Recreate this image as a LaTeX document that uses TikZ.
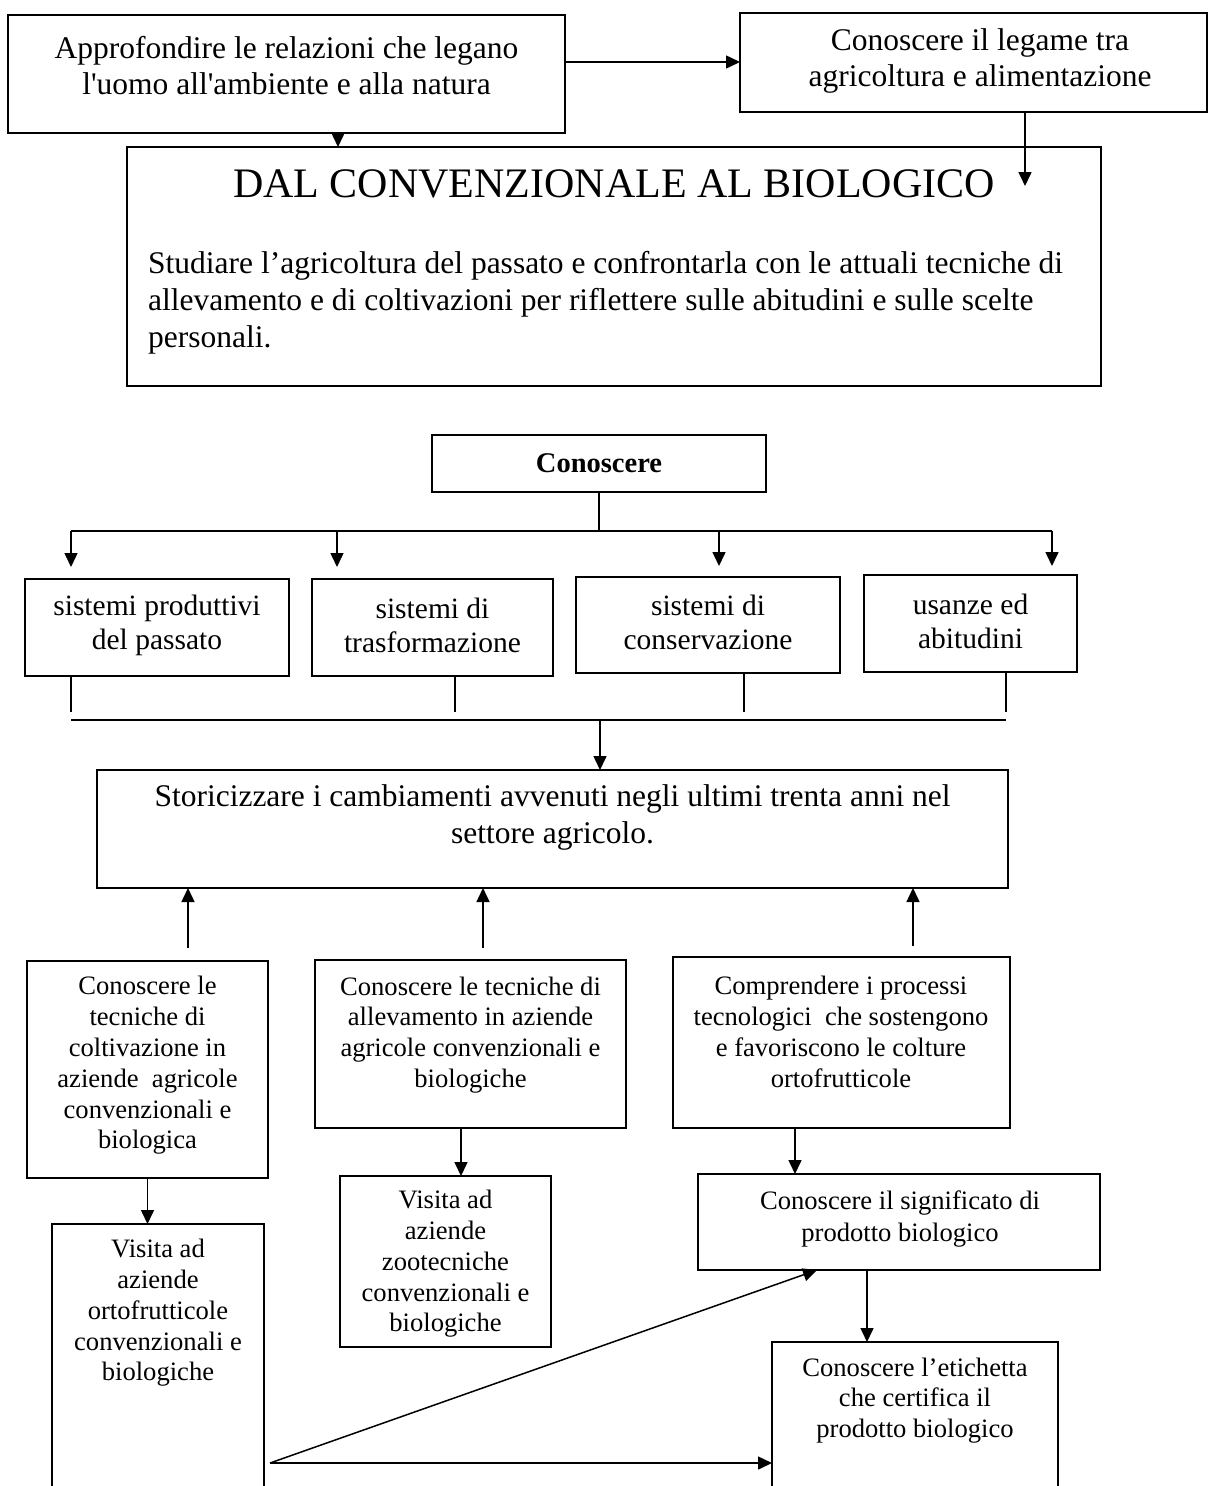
\documentclass[tikz,border=0pt]{standalone}
\usepackage{fontspec}
\setmainfont{Liberation Serif}
\usetikzlibrary{arrows.meta}

\begin{document}
\begin{tikzpicture}[x=1pt,y=-1pt,
  box/.style={draw, line width=1.8pt, rectangle, inner sep=0pt, outer sep=0pt},
  txt/.style={align=center, inner sep=0pt},
  big/.style={font=\fontsize{31.5}{36}\selectfont},
  mid/.style={font=\fontsize{29.5}{34}\selectfont},
  small/.style={font=\fontsize{26.6}{30.8}\selectfont},
  ln/.style={line width=1.5pt},
  arr/.style={line width=1.5pt, -{Triangle[length=14pt,width=13pt]}}]

\fill[white] (0,0) rectangle (1209,1486);
\useasboundingbox (0,0) rectangle (1209,1486);

% ---------- top part ----------
\node[box, minimum width=557, minimum height=118] (rel) at (286.5,74) {};
\node[txt, big] (relt) at (286.5,66)
  {Approfondire le relazioni che legano\\l\textquotesingle uomo all\textquotesingle ambiente e alla natura};

\node[box, minimum width=467, minimum height=99] (leg) at (973.5,62.5) {};
\node[txt, big] (legt) at (980,61)
  {Conoscere il legame tra\\agricoltura e alimentazione};

\node[box, minimum width=974, minimum height=239] (main) at (614,266.5) {};
\node[txt, font=\fontsize{42}{48}\selectfont] (title) at (614,184)
  {DAL CONVENZIONALE AL BIOLOGICO};
\node[inner sep=0pt, align=left, anchor=north west, font=\fontsize{31.5}{37}\selectfont] (para) at (148,251)
  {Studiare l’agricoltura del passato e confrontarla con le attuali tecniche di\\
   allevamento e di coltivazioni per riflettere sulle abitudini e sulle scelte\\
   personali.};

\draw[arr] ([yshift=12pt]rel.east) -- ([yshift=12pt]rel.east -| leg.west);
\draw[arr] ([xshift=51.5pt]rel.south) -- ([xshift=51.5pt]rel.south |- main.north);
\coordinate (legend) at (1025,186);
\draw[arr] (leg.south -| legend) -- (legend);

% ---------- Conoscere ----------
\node[box, minimum width=334, minimum height=57] (con) at (599,463.5) {};
\node[txt, font=\fontsize{28.5}{34}\selectfont\bfseries] (cont) at (599,463) {Conoscere};

\node[box, minimum width=264, minimum height=97] (r1) at (157,627.5) {};
\node[box, minimum width=241, minimum height=97] (r2) at (432.5,627.5) {};
\node[box, minimum width=264, minimum height=96] (r3) at (708,625) {};
\node[box, minimum width=213, minimum height=97] (r4) at (970.5,623.5) {};
\node[txt, mid] (r1t) at (157,625) {sistemi produttivi\\del passato};
\node[txt, mid] (r2t) at (432.5,625) {sistemi di\\trasformazione};
\node[txt, mid] (r3t) at (708,622.5) {sistemi di\\conservazione};
\node[txt, mid] (r4t) at (970.5,621) {usanze ed\\abitudini};

\coordinate (hub) at (599,531);
\coordinate (h1) at (71,531);
\coordinate (h2) at (337,531);
\coordinate (h3) at (719,531);
\coordinate (h4) at (1052,531);
\draw[ln] (con.south) -- (hub);
\draw[ln] (h1) -- (h4);
\draw[arr, shorten >=12pt] (h1) -- (h1 |- r1.north);
\draw[arr, shorten >=12pt] (h2) -- (h2 |- r2.north);
\draw[arr, shorten >=11pt] (h3) -- (h3 |- r3.north);
\draw[arr, shorten >=9pt] (h4) -- (h4 |- r4.north);

% collector below the four boxes
\coordinate (c1) at (71,712);
\coordinate (c2) at (455,712);
\coordinate (c3) at (744,712);
\coordinate (c4) at (1006,712);
\coordinate (k1) at (71,720);
\coordinate (k4) at (1006,720);
\coordinate (kc) at (600,720);
\draw[ln] (r1.south -| c1) -- (c1);
\draw[ln] (r2.south -| c2) -- (c2);
\draw[ln] (r3.south -| c3) -- (c3);
\draw[ln] (r4.south -| c4) -- (c4);
\draw[ln] (k1) -- (k4);

% ---------- Storicizzare ----------
\node[box, minimum width=911, minimum height=118] (sto) at (552.5,829) {};
\node[txt, font=\fontsize{31.5}{37}\selectfont] (stot) at (552.5,817.5)
  {Storicizzare i cambiamenti avvenuti negli ultimi trenta anni nel\\settore agricolo.};
\draw[arr] (kc) -- (kc |- sto.north);

% ---------- lower boxes ----------
\node[box, minimum width=241, minimum height=217] (colt) at (147.5,1069.5) {};
\node[box, minimum width=311, minimum height=168] (alle) at (470.5,1044) {};
\node[box, minimum width=337, minimum height=171] (proc) at (841.5,1042.5) {};
\node[txt, small] (coltt) at (147.5,1065.5)
  {Conoscere le\\tecniche di\\coltivazione in\\aziende\ \ agricole\\convenzionali e\\biologica};
\node[txt, small] (allet) at (470.5,1035)
  {Conoscere le tecniche di\\allevamento in aziende\\agricole convenzionali e\\biologiche};
\node[txt, small] (proct) at (841,1032)
  {Comprendere i processi\\tecnologici\ \ che sostengono\\e favoriscono le colture\\ortofrutticole};

\coordinate (u1) at (188,948);
\coordinate (u2) at (483,948);
\coordinate (u3) at (913,946);
\draw[arr] (u1) -- (u1 |- sto.south);
\draw[arr] (u2) -- (u2 |- sto.south);
\draw[arr] (u3) -- (u3 |- sto.south);

\node[box, minimum width=212, minimum height=272] (orto) at (158,1360) {};
\node[box, minimum width=211, minimum height=171] (zoo) at (445.5,1261.5) {};
\node[box, minimum width=402, minimum height=96] (sign) at (899,1222) {};
\node[box, minimum width=286, minimum height=154] (etic) at (915,1419) {};
\node[txt, small] (ortot) at (158,1313)
  {Visita ad\\aziende\\ortofrutticole\\convenzionali e\\biologiche};
\node[txt, small] (zoot) at (445.5,1264)
  {Visita ad\\aziende\\zootecniche\\convenzionali e\\biologiche};
\node[txt, font=\fontsize{26.6}{32}\selectfont] (signt) at (900,1219)
  {Conoscere il significato di\\prodotto biologico};
\node[txt, small] (etict) at (915,1400.5)
  {Conoscere l’etichetta\\che certifica il\\prodotto biologico};

\draw[arr] (colt.south) -- (colt.south |- orto.north);
\draw[arr] ([xshift=-9.5pt]alle.south) -- ([xshift=-9.5pt]alle.south |- zoo.north);
\draw[arr] ([xshift=-46.5pt]proc.south) -- ([xshift=-46.5pt]proc.south |- sign.north);
\draw[arr] ([xshift=-32pt]sign.south) -- ([xshift=-32pt]sign.south |- etic.north);

\coordinate (vstart) at (270,1463);
\draw[arr] (vstart) -- ([xshift=-82pt]sign.south);
\draw[arr] (vstart) -- (vstart -| etic.west);

\end{tikzpicture}
\end{document}
